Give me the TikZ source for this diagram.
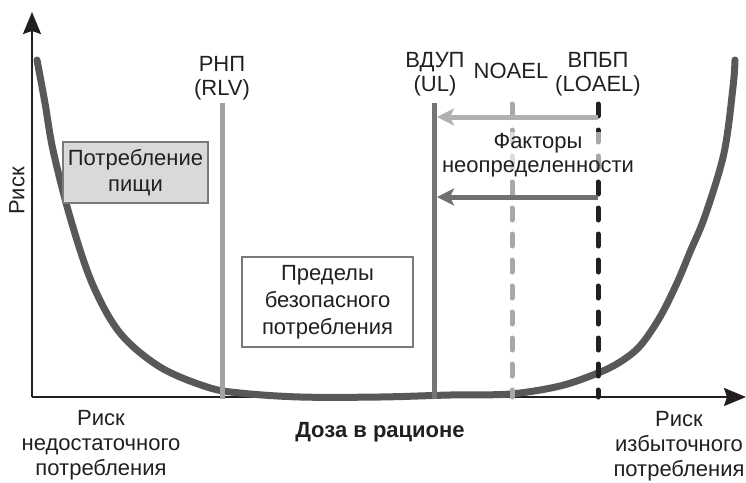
\documentclass[tikz,border=0pt]{standalone}
\usepackage{fontspec}
\setmainfont{Liberation Sans}
\usetikzlibrary{arrows.meta}
\definecolor{curvec}{HTML}{58585A}
\definecolor{ulc}{HTML}{747476}
\definecolor{rlvc}{HTML}{A2A2A4}
\definecolor{noaelc}{HTML}{A8A8AA}
\definecolor{arrlight}{HTML}{B0B0B2}
\definecolor{arrdark}{HTML}{707072}
\definecolor{boxfill}{HTML}{D9D9DA}
\definecolor{boxline}{HTML}{7A7A7C}
\definecolor{txt}{HTML}{231F20}
\begin{document}
\begin{tikzpicture}[x=1pt,y=-1pt,
  lbl/.style={font=\fontsize{22}{24}\selectfont, align=center, inner sep=0pt, text=txt},
  axisline/.style={line width=2pt, draw=txt, -{Stealth[length=22pt,width=18pt,inset=3pt]}},
  vline/.style={line width=5pt},
  dashline/.style={line width=5pt, line cap=round, dash pattern=on 12pt off 14pt},
  factarrow/.style={line width=5pt, -{Stealth[length=17pt,width=17pt,inset=4pt]}},
  riskcurve/.style={line width=7pt, draw=curvec, line cap=round},
  foodbox/.style={lbl, draw=boxline, fill=boxfill, line width=2pt, minimum width=145pt, minimum height=61pt, font=\fontsize{22}{26}\selectfont},
  safebox/.style={lbl, draw=boxline, fill=white, line width=1.5pt, minimum width=171pt, minimum height=90pt, font=\fontsize{22}{27}\selectfont}
]
\useasboundingbox (0,0) rectangle (746,482);

% axes
\coordinate (O) at (32,397);
\coordinate (ytop) at (32,12);
\coordinate (xend) at (746,397);
\draw[axisline] (O) -- (ytop);
\draw[axisline] (O) -- (xend);

% risk curve
\draw[riskcurve] plot[smooth, tension=0.55] coordinates {
 (37,60) (45,103) (53,150) (70,217) (92,283) (120,333) (160,367) (207,387)
 (240,393) (300,397) (380,397) (450,395) (510,394) (560,386) (598,373)
 (620,362) (640,346) (660,317) (677,283) (690,252) (705,216) (724,153) (733,87) (735,60)};

% boxes
\node[foodbox] (food) at (135.5,172.5) {Потребление\\пищи};
\node[safebox] (safe) at (327.5,302) {Пределы\\безопасного\\потребления};

% vertical reference lines
\coordinate (rlvT) at (222,103); \coordinate (rlvB) at (222,399);
\coordinate (ulT) at (434,103);  \coordinate (ulB) at (434,399);
\coordinate (noT) at (512,104);  \coordinate (noB) at (512,397);
\coordinate (loT) at (598,104);  \coordinate (loB) at (598,397);
\draw[vline, draw=rlvc] (rlvT) -- (rlvB);
\draw[vline, draw=ulc] (ulT) -- (ulB);
\draw[dashline, draw=noaelc] (noT) -- (noB);
\draw[dashline, draw=txt] (loT) -- (loB);

% uncertainty factor arrows
\coordinate (a1s) at (598,117); \coordinate (a1e) at (437,117);
\coordinate (a2s) at (598,197); \coordinate (a2e) at (437,197);
\draw[factarrow, draw=arrlight, fill=arrlight] (a1s) -- (a1e);
\draw[factarrow, draw=arrdark, fill=arrdark] (a2s) -- (a2e);

% labels
\node[lbl] (rlv) at (222,78) {РНП\\(RLV)};
\node[lbl] (ul) at (435,74) {ВДУП\\(UL)};
\node[lbl] (noael) at (511,71) {NOAEL};
\node[lbl] (loael) at (598,74) {ВПБП\\(LOAEL)};
\node[lbl, fill=white, fill opacity=0.6, text opacity=1, inner sep=1pt] (fact) at (538,155) {Факторы\\неопределенности};
\node[lbl, rotate=90] (yl) at (17,191) {Риск};
\node[lbl, font=\fontsize{22}{25}\selectfont] (under) at (101,445) {Риск\\недостаточного\\потребления};
\node[lbl, font=\bfseries\fontsize{22}{24}\selectfont] (dose) at (380,432) {Доза в рационе};
\node[lbl, font=\fontsize{22}{25}\selectfont] (over) at (679,446) {Риск\\избыточного\\потребления};
\end{tikzpicture}
\end{document}
